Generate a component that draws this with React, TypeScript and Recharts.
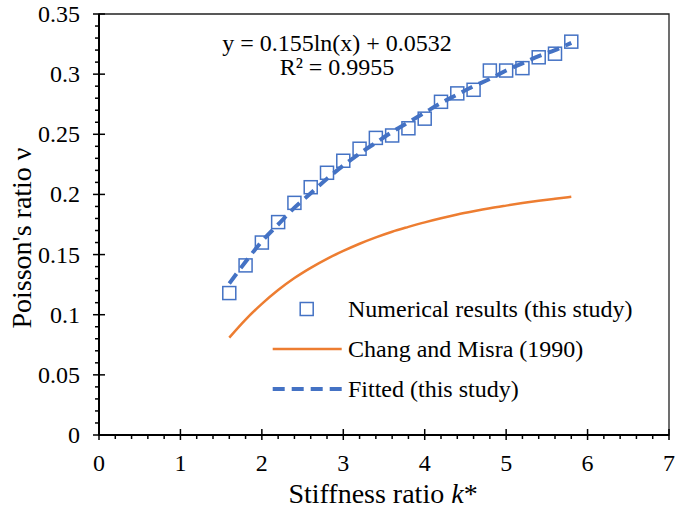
import React from 'react';
import {
  ComposedChart,
  XAxis,
  YAxis,
  Scatter,
  Line,
  ReferenceArea,
  Legend,
} from 'recharts';

const kValues = [1.6, 1.8, 2.0, 2.2, 2.4, 2.6, 2.8, 3.0, 3.2, 3.4, 3.6, 3.8, 4.0, 4.2, 4.4, 4.6, 4.8, 5.0, 5.2, 5.4, 5.6, 5.8];
const numericalNu = [0.118, 0.141, 0.160, 0.177, 0.193, 0.206, 0.218, 0.228, 0.238, 0.247, 0.249, 0.255, 0.263, 0.277, 0.284, 0.287, 0.303, 0.303, 0.305, 0.314, 0.317, 0.327];
const changMisraNu = [0.081, 0.096, 0.109, 0.1205, 0.1305, 0.139, 0.1465, 0.153, 0.159, 0.1643, 0.169, 0.173, 0.1768, 0.1802, 0.1833, 0.186, 0.1885, 0.1907, 0.1928, 0.1947, 0.1964, 0.198];
const fittedNu = [0.126, 0.144, 0.161, 0.175, 0.189, 0.201, 0.213, 0.224, 0.234, 0.243, 0.252, 0.260, 0.268, 0.276, 0.283, 0.290, 0.296, 0.303, 0.309, 0.315, 0.320, 0.326];

const xMajorTicks = [0, 1, 2, 3, 4, 5, 6, 7];
const yMajorTicks = [0, 0.05, 0.1, 0.15, 0.2, 0.25, 0.3, 0.35];

const equationText = 'y = 0.155ln(x) + 0.0532';
const r2Text = 'R² = 0.9955';

const BLUE = '#4472C4';
const ORANGE = '#ED7D31';
const FONT = '"Liberation Serif", "Times New Roman", serif';

// minor ticks every 0.2 on x and 0.01 on y
const xTicks = Array.from({ length: 36 }, (_, i) => +(i * 0.2).toFixed(1));
const yTicks = Array.from({ length: 36 }, (_, i) => +(i * 0.01).toFixed(2));

const numericalData = kValues.map((k, i) => ({ x: k, y: numericalNu[i] }));
const changData = kValues.map((k, i) => ({ x: k, y: changMisraNu[i] }));
const fittedData = kValues.map((k, i) => ({ x: k, y: fittedNu[i] }));

const isMajor = (v: number, list: number[]) => list.some((m) => Math.abs(m - v) < 1e-6);

const XTick = ({ x, y, payload }: any) => {
  const v = payload.value;
  const major = isMajor(v, xMajorTicks);
  return (
    <g>
      <line x1={x} x2={x} y1={major ? y - 6 : y} y2={y + (major ? 5 : 4)} stroke="#000" strokeWidth={1.5} />
      {major && (
        <text x={x} y={y + 36} textAnchor="middle" fontSize={24} fontFamily={FONT} fill="#000">
          {v}
        </text>
      )}
    </g>
  );
};

const YTick = ({ x, y, payload }: any) => {
  const v = payload.value;
  const major = isMajor(v, yMajorTicks);
  return (
    <g>
      <line x1={x - (major ? 6 : 4)} x2={major ? x + 6 : x} y1={y} y2={y} stroke="#000" strokeWidth={1.5} />
      {major && (
        <text x={x - 19} y={y + 8} textAnchor="end" fontSize={24} fontFamily={FONT} fill="#000">
          {String(+v.toFixed(2))}
        </text>
      )}
    </g>
  );
};

const SquareShape = ({ cx, cy }: any) => (
  <rect x={cx - 6.5} y={cy - 6.5} width={13} height={13} fill="none" stroke={BLUE} strokeWidth={1.5} />
);

const legendRows = [
  { label: 'Numerical results (this study)', kind: 'square' },
  { label: 'Chang and Misra (1990)', kind: 'solid' },
  { label: 'Fitted (this study)', kind: 'dashed' },
];

const renderLegend = () => (
  <div style={{ fontFamily: FONT, fontSize: 24, color: '#000' }}>
    {legendRows.map((r) => (
      <div key={r.label} style={{ display: 'flex', alignItems: 'center', height: 40 }}>
        <svg width={78} height={40}>
          {r.kind === 'square' && (
            <rect x={30.2} y={13.5} width={13} height={13} fill="none" stroke={BLUE} strokeWidth={1.5} />
          )}
          {r.kind === 'solid' && <line x1={2.7} x2={71.7} y1={20} y2={20} stroke={ORANGE} strokeWidth={2.5} />}
          {r.kind === 'dashed' && (
            <line x1={2.7} x2={71.7} y1={20} y2={20} stroke={BLUE} strokeWidth={4} strokeDasharray="12 7" />
          )}
        </svg>
        <span style={{ whiteSpace: 'nowrap' }}>{r.label}</span>
      </div>
    ))}
  </div>
);

export default function App() {
  return (
    <div style={{ position: 'absolute', left: 0, top: 0, width: 677, height: 515, background: '#fff', fontFamily: FONT }}>
      <ComposedChart width={677} height={515} margin={{ top: 14, right: 8, bottom: 0, left: 0 }}>
        <XAxis
          type="number"
          dataKey="x"
          domain={[0, 7]}
          ticks={xTicks}
          interval={0}
          tickLine={false}
          tickSize={0}
          tickMargin={0}
          height={80}
          axisLine={{ stroke: '#000', strokeWidth: 2 }}
          tick={<XTick />}
        />
        <YAxis
          type="number"
          dataKey="y"
          domain={[0, 0.35]}
          ticks={yTicks}
          interval={0}
          tickLine={false}
          tickSize={0}
          tickMargin={0}
          width={99}
          axisLine={{ stroke: '#000', strokeWidth: 2 }}
          tick={<YTick />}
        />
        <ReferenceArea x1={0} x2={7} y1={0} y2={0.35} fill="none" fillOpacity={0} stroke="#222" strokeWidth={1.3} />
        <Scatter data={numericalData} dataKey="y" shape={<SquareShape />} isAnimationActive={false} />
        <Line
          data={changData}
          dataKey="y"
          type="monotone"
          stroke={ORANGE}
          strokeWidth={2.5}
          dot={false}
          isAnimationActive={false}
        />
        <Line
          data={fittedData}
          dataKey="y"
          type="monotone"
          stroke={BLUE}
          strokeWidth={4}
          strokeDasharray="12 7"
          dot={false}
          isAnimationActive={false}
        />
        <Legend
          layout="vertical"
          align="center"
          verticalAlign="middle"
          wrapperStyle={{ left: 270, top: 289, width: 400 }}
          content={renderLegend}
        />
      </ComposedChart>
      <div
        style={{
          position: 'absolute',
          left: 187,
          top: 31,
          width: 300,
          textAlign: 'center',
          fontSize: 24,
          lineHeight: '24px',
          color: '#000',
        }}
      >
        <div>{equationText}</div>
        <div>{r2Text}</div>
      </div>
      <div
        style={{
          position: 'absolute',
          left: 183,
          top: 478,
          width: 400,
          textAlign: 'center',
          fontSize: 28,
          lineHeight: '32px',
          color: '#000',
          whiteSpace: 'nowrap',
        }}
      >
        Stiffness ratio <i>k</i>*
      </div>
      <div
        style={{
          position: 'absolute',
          left: 22 - 150,
          top: 238 - 16,
          width: 300,
          textAlign: 'center',
          fontSize: 28,
          lineHeight: '32px',
          color: '#000',
          whiteSpace: 'nowrap',
          transform: 'rotate(-90deg)',
        }}
      >
        Poisson's ratio ν
      </div>
    </div>
  );
}
